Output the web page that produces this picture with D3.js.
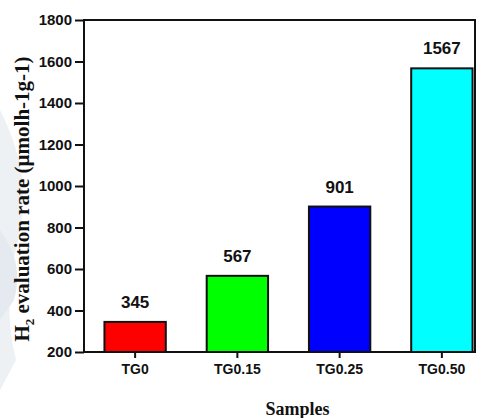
<!DOCTYPE html>
<html>
<head>
<meta charset="utf-8">
<script src="https://cdn.jsdelivr.net/npm/d3@7"></script>
<style>
  html, body { margin: 0; padding: 0; background: #fff; }
  svg { display: block; }
</style>
</head>
<body>
<svg id="chart" width="485" height="418"></svg>
<script>
// H2 evolution rate per sample
const samples = ["TG0", "TG0.15", "TG0.25", "TG0.50"];
const rates = [345, 567, 901, 1567];
const barColors = ["#ff0000", "#00ff00", "#0000ff", "#00ffff"];
const yTicks = [200, 400, 600, 800, 1000, 1200, 1400, 1600, 1800];

const svg = d3.select("#chart");
const frame = { left: 84, right: 475, top: 20, bottom: 352 };

// faint background emblem on the left edge
const bg = svg.append("g").attr("fill", "#edf1f4");
bg.append("path").attr("d", "M0,110 C20,150 30,190 18,240 C8,280 6,320 16,360 L0,390 Z");
bg.append("path").attr("d", "M0,230 C14,250 22,270 14,300 L0,320 Z").attr("fill", "#e4eaef");

const x = d3.scaleBand()
  .domain(samples)
  .range([frame.left, frame.left + 409])
  .paddingInner(0.4)
  .paddingOuter(0.2);

const y = d3.scaleLinear()
  .domain([200, 1800])
  .range([frame.bottom, frame.top]);

// bars
svg.append("g")
  .selectAll("rect")
  .data(samples)
  .join("rect")
  .attr("x", d => x(d))
  .attr("y", (d, i) => y(rates[i]))
  .attr("width", x.bandwidth())
  .attr("height", (d, i) => y(200) - y(rates[i]))
  .attr("fill", (d, i) => barColors[i])
  .attr("stroke", "#111")
  .attr("stroke-width", 2);

// value labels
svg.append("g")
  .selectAll("text")
  .data(samples)
  .join("text")
  .attr("x", d => x(d) + x.bandwidth() / 2)
  .attr("y", (d, i) => y(rates[i]) - 14)
  .attr("text-anchor", "middle")
  .attr("font-family", "'Liberation Sans', Arial, sans-serif")
  .attr("font-weight", "bold")
  .attr("font-size", 17)
  .attr("fill", "#111")
  .text((d, i) => rates[i]);

// frame
svg.append("rect")
  .attr("x", frame.left)
  .attr("y", frame.top)
  .attr("width", frame.right - frame.left)
  .attr("height", frame.bottom - frame.top)
  .attr("fill", "none")
  .attr("stroke", "#111")
  .attr("stroke-width", 2);

// y axis
const yAxis = svg.append("g")
  .attr("transform", `translate(${frame.left},0)`)
  .call(d3.axisLeft(y).tickValues(yTicks).tickSize(9).tickPadding(3).tickFormat(d3.format("d")));
yAxis.select(".domain").remove();
yAxis.selectAll("line").attr("stroke", "#111").attr("stroke-width", 2);
yAxis.selectAll("text")
  .attr("font-family", "'Liberation Sans', Arial, sans-serif")
  .attr("font-weight", "bold")
  .attr("font-size", 15)
  .attr("fill", "#111");

// x axis
const xAxis = svg.append("g")
  .attr("transform", `translate(0,${frame.bottom})`)
  .call(d3.axisBottom(x).tickSize(6).tickPadding(6));
xAxis.select(".domain").remove();
xAxis.selectAll("line").attr("stroke", "#111").attr("stroke-width", 2);
xAxis.selectAll("text")
  .attr("font-family", "'Liberation Sans', Arial, sans-serif")
  .attr("font-weight", "bold")
  .attr("font-size", 14)
  .attr("fill", "#111");

// axis titles
svg.append("text")
  .attr("x", (frame.left + frame.right) / 2 + 18)
  .attr("y", 415)
  .attr("text-anchor", "middle")
  .attr("font-family", "'Liberation Serif', 'Times New Roman', serif")
  .attr("font-weight", "bold")
  .attr("font-size", 18)
  .attr("fill", "#111")
  .text("Samples");

const yTitle = svg.append("text")
  .attr("transform", "translate(29,199) rotate(-90)")
  .attr("text-anchor", "middle")
  .attr("font-family", "'Liberation Serif', 'Times New Roman', serif")
  .attr("font-weight", "bold")
  .attr("font-size", 21)
  .attr("fill", "#111");
yTitle.append("tspan").text("H");
yTitle.append("tspan").attr("font-size", 13).attr("dy", 5).text("2");
yTitle.append("tspan").attr("dy", -5).text(" evaluation rate (µmolh-1g-1)");
</script>
</body>
</html>
